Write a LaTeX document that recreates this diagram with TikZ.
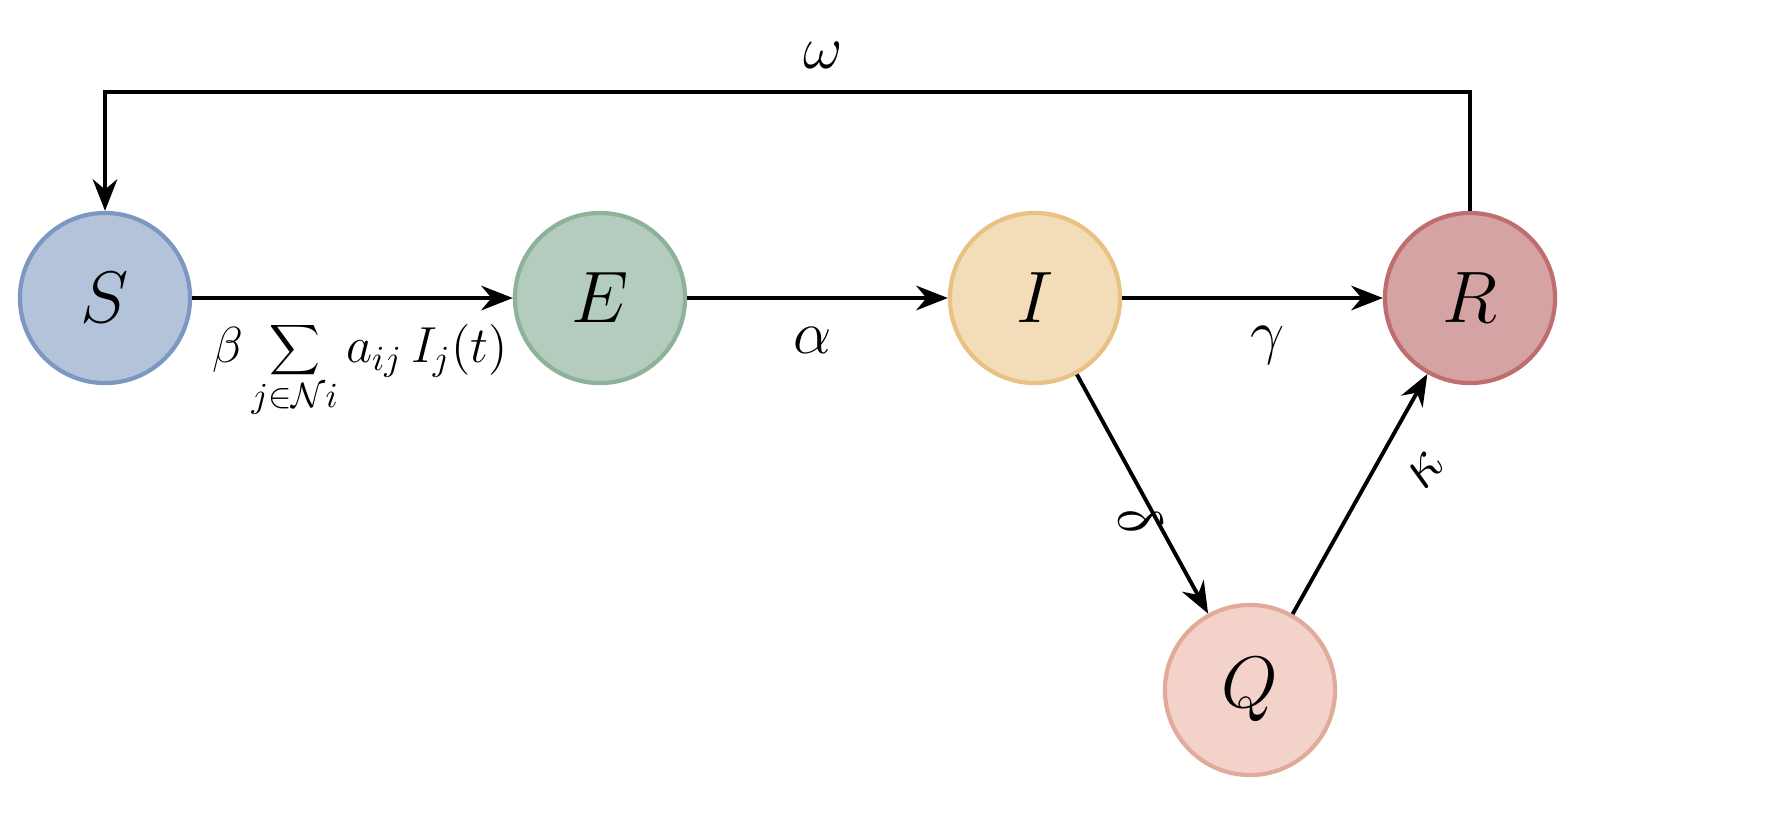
\documentclass[tikz,border=0pt]{standalone}
\usetikzlibrary{arrows.meta}
\begin{document}
\begin{tikzpicture}[x=0.01cm,y=-0.01cm,
  comp/.style={circle,minimum size=1.7cm,line width=1.2pt,inner sep=0pt,font=\huge},
  flow/.style={-{Stealth[length=9pt,width=7pt]},line width=1.1pt},
  lab/.style={font=\LARGE}]
\useasboundingbox (0,0) rectangle (1785,823);
\definecolor{sf}{HTML}{B3C3D9}\definecolor{sd}{HTML}{7C97C2}
\definecolor{ef}{HTML}{B4CCBD}\definecolor{ed}{HTML}{8CB298}
\definecolor{if}{HTML}{F3DDB8}\definecolor{id}{HTML}{E9C184}
\definecolor{rf}{HTML}{D6A3A4}\definecolor{rd}{HTML}{BF6E70}
\definecolor{qf}{HTML}{F3D3C9}\definecolor{qd}{HTML}{E2AA9A}
\node[comp,fill=sf,draw=sd] (S) at (105,298) {$S$};
\node[comp,fill=ef,draw=ed] (E) at (600,298) {$E$};
\node[comp,fill=if,draw=id] (I) at (1035,298) {$I$};
\node[comp,fill=rf,draw=rd] (R) at (1470,298) {$R$};
\node[comp,fill=qf,draw=qd] (Q) at (1250,690) {$Q$};
\coordinate (c1) at (1470,92);
\coordinate (c2) at (105,92);
\draw[flow] (S) -- (E);
\draw[flow] (E) -- (I);
\draw[flow] (I) -- (R);
\draw[flow] (I) -- (Q);
\draw[flow] (Q) -- (R);
\draw[flow] (R.north) -- (c1) -- (c2) -- (S.north);
\node[lab] (w) at (823,55) {$\omega$};
\node[lab] (a) at (813,340) {$\alpha$};
\node[lab] (g) at (1268,345) {$\gamma$};
\node[lab,rotate=-70] (d) at (1140,520) {$\delta$};
\node[lab,rotate=50] (k) at (1425,470) {$\kappa$};
\node[font=\Large,anchor=west] (f) at (200,370) {$\displaystyle\beta\sum_{j\in\mathcal{N}i} a_{ij}\, I_j(t)$};
\end{tikzpicture}
\end{document}
